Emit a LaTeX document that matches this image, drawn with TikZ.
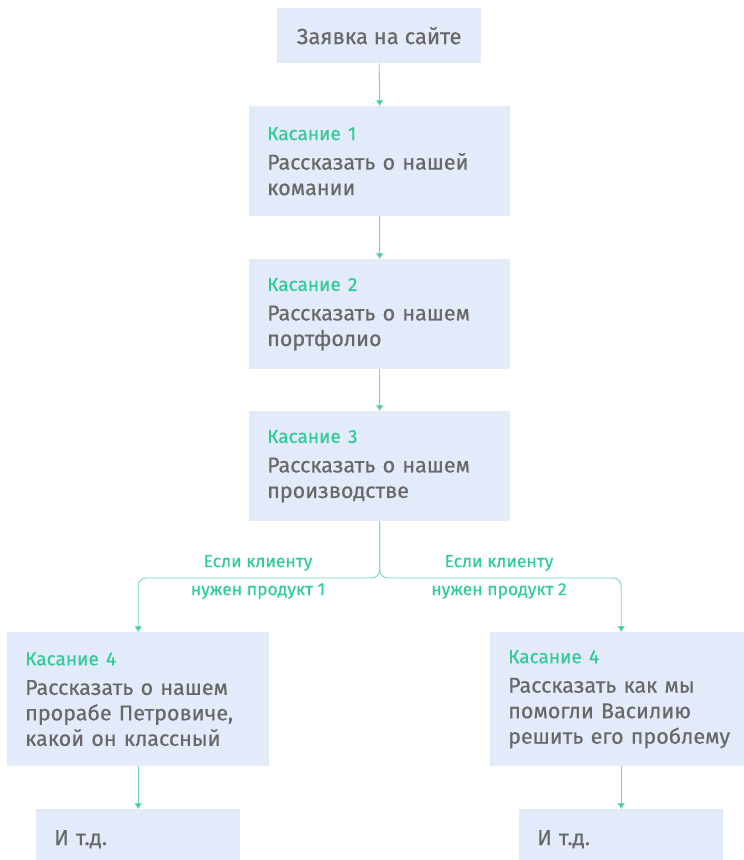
\documentclass[tikz,border=0pt]{standalone}
\usepackage{fontspec}
\setmainfont{Fira Sans}[UprightFeatures={FakeBold=0.45}]
\usetikzlibrary{arrows.meta}
\definecolor{boxfill}{HTML}{E3EAF9}
\definecolor{mint}{HTML}{2FCB98}
\definecolor{mintline}{HTML}{6FDAB8}
\definecolor{bodygray}{HTML}{686868}
\tikzset{
  x=1pt, y=-1pt,
  card/.style={fill=boxfill, draw=none, inner xsep=18pt, inner ysep=0pt,
    align=left, text=bodygray, anchor=north west,
    font=\fontsize{21.5}{25.5}\selectfont},
  link/.style={draw=mintline, line width=0.9pt,
    -{Triangle[width=7pt,length=6pt,fill=mint]}},
  cond/.style={text=mint, font=\fontsize{17.5}{28}\selectfont, align=center}
}
\newcommand{\ttl}[1]{{\color{mint}\fontsize{19}{22}\selectfont #1}\\[4pt]}
\begin{document}
\begin{tikzpicture}
\useasboundingbox (0,0) rectangle (744,860);
\clip (0,0) rectangle (744,860);

% entry point
\node[card, align=center, inner xsep=0pt, minimum width=204pt, minimum height=55pt,
  font=\fontsize{22}{25}\selectfont] (start) at (277,8) {Заявка на сайте};

% three touches in a column
\node[card, text width=225pt, minimum height=110pt] (t1) at (249,106)
  {\ttl{Касание 1}Рассказать о нашей\\комании};
\node[card, text width=225pt, minimum height=110pt] (t2) at (249,259)
  {\ttl{Касание 2}Рассказать о нашем\\портфолио};
\node[card, text width=225pt, minimum height=110pt] (t3) at (249,411)
  {\ttl{Касание 3}Рассказать о нашем\\производстве};

% two alternative fourth touches
\node[card, text width=226pt, minimum height=134pt] (t4a) at (7,632)
  {\ttl{Касание 4}Рассказать о нашем\\прорабе Петровиче,\\какой он классный};
\node[card, text width=226pt, minimum height=134pt] (t4b) at (490,632)
  {\ttl{Касание 4}Рассказать как мы\\помогли Василию\\решить его проблему};

% continuation boxes
\node[card, text width=168pt, minimum height=60pt] (e1) at (36,809) {И т.д.};
\node[card, text width=168pt, minimum height=60pt] (e2) at (519,809) {И т.д.};

% connectors
\draw[link] (start.south) -- (t1.north);
\draw[link] (t1.south) -- (t2.north);
\draw[link] (t2.south) -- (t3.north);
\coordinate (split) at (t3.south |- 0,578);
\draw[link, rounded corners=8pt] (t3.south) -- (split) -| (t4a.north);
\draw[link, rounded corners=8pt] (t3.south) -- (split) -| (t4b.north);
\draw[link] (t4a.south) -- (e1.north -| t4a.south);
\draw[link] (t4b.south) -- (e2.north -| t4b.south);

% branch conditions
\node[cond] (c1) at (258,577) {Если клиенту\\нужен продукт 1};
\node[cond] (c2) at (499,577) {Если клиенту\\нужен продукт 2};
\end{tikzpicture}
\end{document}
